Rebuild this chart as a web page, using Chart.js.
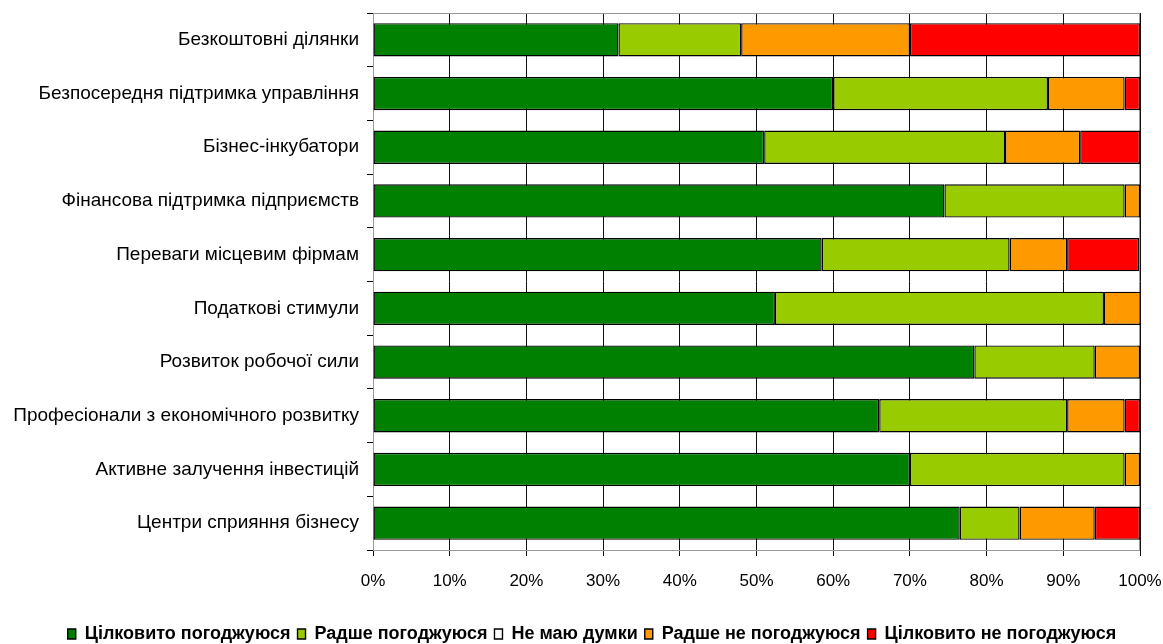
<!DOCTYPE html>
<html>
<head>
<meta charset="utf-8">
<script src="https://cdn.jsdelivr.net/npm/chart.js@4/dist/chart.umd.min.js"></script>
<style>
    html, body { margin: 0; padding: 0; background: #fff; }
    #wrap { width: 1163px; height: 644px; }
</style>
</head>
<body>
<div id="wrap"><canvas id="chart"></canvas></div>
<script>
// Categories, top to bottom
const categories = [
    'Безкоштовні ділянки',
    'Безпосередня підтримка управління',
    'Бізнес-інкубатори',
    'Фінансова підтримка підприємств',
    'Переваги місцевим фірмам',
    'Податкові стимули',
    'Розвиток робочої сили',
    'Професіонали з економічного розвитку',
    'Активне залучення інвестицій',
    'Центри сприяння бізнесу'
];

// Shares, % of answers
const fullyAgree     = [32, 60, 51.0, 74.5, 58.5, 52.4, 78.4, 66.0, 70, 76.5];
const ratherAgree    = [16, 28, 31.4, 23.5, 24.5, 42.9, 15.7, 24.5, 28, 7.8];
const noOpinion      = [0, 0, 0, 0, 0, 0, 0, 0, 0, 0];
const ratherDisagree = [22, 10, 9.8, 2.0, 7.5, 4.8, 5.9, 7.5, 2, 9.8];
const fullyDisagree  = [30, 2, 7.8, 0, 9.4, 0, 0, 2.0, 0, 5.9];

const seriesNames = [
    'Цілковито погоджуюся',
    'Радше погоджуюся',
    'Не маю думки',
    'Радше не погоджуюся',
    'Цілковито не погоджуюся'
];
const seriesColors = ['#008000', '#99CC00', '#FFFFFF', '#FF9900', '#FF0000'];
const seriesValues = [fullyAgree, ratherAgree, noOpinion, ratherDisagree, fullyDisagree];

const xTicks = [0, 10, 20, 30, 40, 50, 60, 70, 80, 90, 100];

const FONT = "'Liberation Sans', Arial, sans-serif";

// gray frame round the plot area, as in the spreadsheet chart
const plotFrame = {
    id: 'plotFrame',
    afterLayout(chart) {
        // the legend sits centred on the whole picture, not on the padded box
        if (chart.legend) {
            chart.legend.left += 22;
            chart.legend.right += 22;
        }
    },
    beforeDatasetsDraw(chart) {
        const { ctx, chartArea: a } = chart;
        ctx.save();
        ctx.strokeStyle = '#9a9a9a';
        ctx.lineWidth = 1;
        ctx.strokeRect(a.left + 0.5, a.top + 0.5, a.right - a.left - 1, a.bottom - a.top);
        ctx.restore();
    }
};

// let layout.padding alone decide the plot area edges
function noScalePadding(scale) {
    scale.paddingTop = 0;
    scale.paddingBottom = 0;
    scale.paddingLeft = 0;
    scale.paddingRight = 0;
}

const datasets = seriesNames.map((name, i) => ({
    label: name,
    data: seriesValues[i],
    backgroundColor: seriesColors[i],
    borderColor: '#000',
    borderWidth: 1.4,
    borderSkipped: false,
    categoryPercentage: 1,
    barPercentage: 0.62
}));

new Chart(document.getElementById('chart'), {
    type: 'bar',
    data: { labels: categories, datasets },
    plugins: [plotFrame],
    options: {
        indexAxis: 'y',
        responsive: true,
        maintainAspectRatio: false,
        animation: false,
        layout: { padding: { top: 13, right: 23, left: 0, bottom: -9 } },
        plugins: {
            tooltip: { enabled: false },
            legend: {
                position: 'bottom',
                labels: {
                    color: '#000',
                    font: { family: FONT, size: 18, weight: 'bold' },
                    boxWidth: 8,
                    boxHeight: 10,
                    padding: 7
                }
            }
        },
        scales: {
            x: {
                stacked: true,
                min: 0,
                max: 100,
                afterBuildTicks: (scale) => {
                    scale.ticks = xTicks.map(v => ({ value: v }));
                },
                afterFit: (scale) => {
                    const legendH = scale.chart.legend ? scale.chart.legend.height : 0;
                    scale.height = 644 + 9 - legendH - 550;
                    noScalePadding(scale);
                },
                ticks: {
                    color: '#000',
                    font: { family: FONT, size: 17 },
                    padding: 15,
                    callback: (v) => v + '%'
                },
                grid: {
                    color: '#111',
                    lineWidth: 1,
                    tickLength: 6
                },
                border: { color: '#000', width: 1 }
            },
            y: {
                stacked: true,
                afterFit: (scale) => {
                    scale.width = 373;
                    noScalePadding(scale);
                },
                ticks: {
                    color: '#000',
                    font: { family: FONT, size: 19 },
                    padding: 8
                },
                grid: {
                    offset: true,
                    drawOnChartArea: false,
                    color: '#000',
                    tickLength: 6
                },
                border: { color: '#000', width: 1 }
            }
        }
    }
});
</script>
</body>
</html>
